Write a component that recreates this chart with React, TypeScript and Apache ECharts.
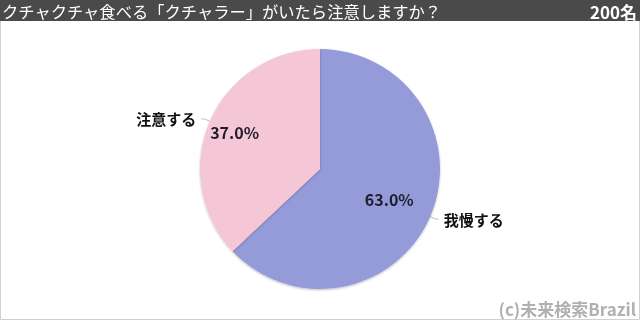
import React, { useEffect, useRef } from "react";
import * as echarts from "echarts";

const titleText = "クチャクチャ食べる「クチャラー」がいたら注意しますか？";
const sampleText = "200名";
const creditText = "(c)未来検索Brazil";
const categories = ["我慢する", "注意する"];
const values = [63.0, 37.0];
const colors = ["#959ad8", "#f4c6d6"];

export default function App() {
  const ref = useRef<HTMLDivElement>(null);
  useEffect(() => {
    if (!ref.current) return;
    const chart = echarts.init(ref.current, null, { renderer: "svg" });
    const font = '"Noto Sans CJK JP", "Noto Sans", sans-serif';
    const data = categories.map((c, i) => ({ name: c, value: values[i], itemStyle: { color: colors[i] } }));
    const overlay = (idx: number, r: number) => ({
      type: "pie",
      silent: true,
      center: [320, 169],
      radius: [0, r],
      z: 5,
      itemStyle: { color: "rgba(0,0,0,0)" },
      label: { show: false },
      labelLine: { show: false },
      data: categories.map((c, i) => ({
        name: c,
        value: values[i],
        label: {
          show: i === idx,
          position: "inside",
          formatter: (p: any) => p.value.toFixed(1) + "%",
          fontSize: 16,
          fontWeight: "bold",
          color: "#1e1e2a",
          fontFamily: font,
        },
      })),
    });
    chart.setOption({
      animation: false,
      graphic: [
        { type: "rect", shape: { x: 0.5, y: 0.5, width: 639, height: 319 }, style: { fill: "#fff", stroke: "#d0d0d0", lineWidth: 1 }, z: -10 },
        { type: "rect", shape: { x: 0, y: 0, width: 640, height: 21 }, style: { fill: "#4a4a4a" } },
        { type: "text", x: 2, y: 11, style: { text: titleText, fill: "#fff", font: `16.3px ${font}`, textVerticalAlign: "middle", textAlign: "left" } },
        { type: "text", x: 637, y: 11, style: { text: sampleText, fill: "#fff", font: `bold 17px ${font}`, textVerticalAlign: "middle", textAlign: "right" } },
        { type: "text", x: 636, y: 308, style: { text: creditText, fill: "#b0b0b0", font: `bold 17px ${font}`, textVerticalAlign: "middle", textAlign: "right" } },
      ],
      series: [
        {
          type: "pie",
          center: [320, 169],
          radius: [0, 120],
          startAngle: 90,
          clockwise: true,
          itemStyle: { shadowBlur: 2, shadowColor: "rgba(0,0,0,0.25)", shadowOffsetY: 1 },
          label: {
            show: true,
            position: "outside",
            formatter: "{b}",
            fontSize: 15,
            fontWeight: "bold",
            color: "#111",
            fontFamily: font,
          },
          labelLine: { show: true, length: 6, length2: 3, lineStyle: { color: "#b8c4c0", width: 1 } },
          data,
        },
        overlay(0, 145),
        overlay(1, 180),
      ],
    });
    return () => chart.dispose();
  }, []);
  return <div ref={ref} style={{ position: "fixed", left: 0, top: 0, width: 640, height: 320 }} />;
}
